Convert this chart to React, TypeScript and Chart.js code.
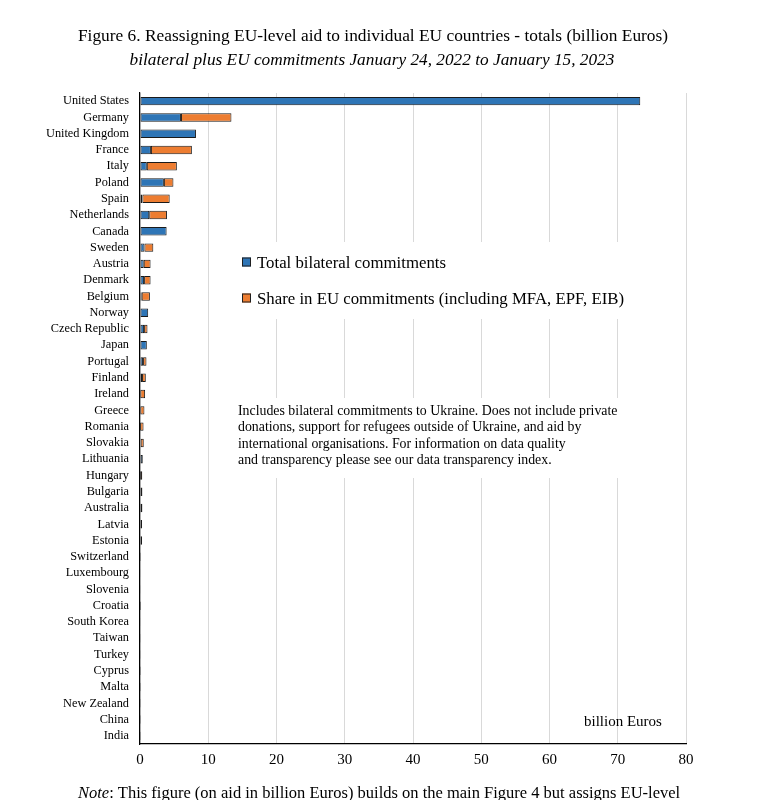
import React, { useEffect, useRef } from "react";
import { Chart, registerables } from "chart.js";

Chart.register(...registerables);

const countries = [
  "United States", "Germany", "United Kingdom", "France", "Italy", "Poland", "Spain",
  "Netherlands", "Canada", "Sweden", "Austria", "Denmark", "Belgium", "Norway",
  "Czech Republic", "Japan", "Portugal", "Finland", "Ireland", "Greece", "Romania",
  "Slovakia", "Lithuania", "Hungary", "Bulgaria", "Australia", "Latvia", "Estonia",
  "Switzerland", "Luxembourg", "Slovenia", "Croatia", "South Korea", "Taiwan", "Turkey",
  "Cyprus", "Malta", "New Zealand", "China", "India",
];

const bilateral = [
  73.3, 6.0, 8.2, 1.6, 1.0, 3.5, 0.35, 1.35, 3.9, 0.65, 0.55, 0.6, 0.25, 1.2,
  0.6, 1.0, 0.45, 0.3, 0.05, 0.05, 0.02, 0.1, 0.4, 0.03, 0.15, 0.35, 0.3, 0.3,
  0.15, 0.08, 0.08, 0.02, 0.05, 0.03, 0.03, 0.01, 0.01, 0.02, 0.01, 0.01,
];

const euShare = [
  0, 7.4, 0, 6.0, 4.4, 1.4, 4.0, 2.6, 0, 1.3, 1.0, 0.95, 1.2, 0,
  0.5, 0, 0.5, 0.55, 0.7, 0.6, 0.5, 0.45, 0.05, 0.3, 0.2, 0, 0, 0,
  0, 0.02, 0.03, 0.08, 0, 0, 0, 0.03, 0.02, 0, 0, 0,
];

const seriesNames = [
  "Total bilateral commitments",
  "Share in EU commitments (including MFA, EPF, EIB)",
];

const xTicks = [0, 10, 20, 30, 40, 50, 60, 70, 80];

const titleText = "Figure 6. Reassigning EU-level aid to individual EU countries - totals (billion Euros)";
const subtitleText = "bilateral plus EU commitments January 24, 2022 to January 15, 2023";
const noteLines = [
  "Includes bilateral commitments to Ukraine. Does not include private",
  "donations, support for refugees outside of Ukraine, and aid by",
  "international organisations. For information on data quality",
  "and transparency please see our data transparency index.",
];
const unitText = "billion Euros";
const footNoteLabel = "Note";
const footNoteText = ": This figure (on aid in billion Euros) builds on the main Figure 4 but assigns EU-level";

const BLUE = "#2E75B6";
const ORANGE = "#ED7D31";
const SERIF = "'Liberation Serif', 'Times New Roman', serif";

const overlayPlugin = {
  id: "overlay",
  beforeDatasetsDraw(chart: any) {
    const ctx = chart.ctx;
    ctx.save();
    ctx.fillStyle = "#ffffff";
    ctx.fillRect(236, 242, 404, 77);
    ctx.fillRect(233, 398, 389, 80);
    ctx.restore();
  },
  afterDraw(chart: any) {
    const ctx = chart.ctx;
    ctx.save();
    ctx.fillStyle = "#000";
    ctx.textBaseline = "alphabetic";
    // Title
    ctx.textAlign = "center";
    ctx.font = `17.35px ${SERIF}`;
    ctx.fillText(titleText, 373, 41);
    ctx.font = `italic 17.3px ${SERIF}`;
    ctx.fillText(subtitleText, 372, 65);

    // Legend
    ctx.textAlign = "left";
    const ds = chart.data.datasets;
    const legendY = [262, 298];
    ds.forEach((d: any, i: number) => {
      const cy = legendY[i];
      ctx.fillStyle = d.backgroundColor;
      ctx.fillRect(242, cy - 4.5, 9, 9);
      ctx.strokeStyle = "#1f1f1f";
      ctx.lineWidth = 1;
      ctx.strokeRect(242.5, cy - 4, 8, 8);
      ctx.fillStyle = "#000";
      ctx.font = `16.8px ${SERIF}`;
      ctx.fillText(d.label, 257, cy + 5.5);
    });

    // Annotation
    ctx.font = `13.85px ${SERIF}`;
    noteLines.forEach((line, i) => {
      ctx.fillText(line, 238, 414.5 + i * 16.5);
    });

    // Unit
    ctx.font = `15px ${SERIF}`;
    ctx.fillText(unitText, 584, 726);

    // Footnote
    ctx.font = `italic 16.5px ${SERIF}`;
    ctx.fillText(footNoteLabel, 78, 798);
    const w = ctx.measureText(footNoteLabel).width;
    ctx.font = `16.5px ${SERIF}`;
    ctx.fillText(footNoteText, 78 + w, 798);
    ctx.restore();
  },
};

export default function App() {
  const ref = useRef<HTMLCanvasElement | null>(null);

  useEffect(() => {
    if (!ref.current) return;
    const chart = new Chart(ref.current, {
      type: "bar",
      data: {
        labels: countries,
        datasets: [
          {
            label: seriesNames[0],
            data: bilateral,
            backgroundColor: BLUE,
            borderColor: "#1a1a1a",
            borderWidth: 1,
            borderSkipped: false,
          },
          {
            label: seriesNames[1],
            data: euShare,
            backgroundColor: ORANGE,
            borderColor: "#1a1a1a",
            borderWidth: 1,
            borderSkipped: false,
          },
        ],
      },
      options: {
        indexAxis: "y",
        responsive: false,
        animation: false,
        maintainAspectRatio: false,
        layout: { padding: { left: 0, right: 86, top: 93, bottom: 26 } },
        datasets: {
          bar: { barPercentage: 0.52, categoryPercentage: 1.0 },
        },
        plugins: {
          legend: { display: false },
          title: { display: false },
          tooltip: { enabled: false },
        },
        scales: {
          x: {
            type: "linear",
            stacked: true,
            min: 0,
            max: 80,
            afterBuildTicks: (scale: any) => {
              scale.ticks = xTicks.map((v) => ({ value: v }));
            },
            afterFit: (scale: any) => {
              scale.height = 30;
            },
            grid: { color: "#d9d9d9", lineWidth: 1, drawTicks: false },
            border: { display: true, color: "#000", width: 1.2 },
            ticks: {
              padding: 7,
              color: "#000",
              font: { family: SERIF, size: 15 },
            },
          },
          y: {
            stacked: true,
            afterFit: (scale: any) => {
              scale.width = 140;
            },
            grid: { display: false, drawTicks: false },
            border: { display: true, color: "#000", width: 1.2 },
            ticks: {
              padding: 11,
              color: "#000",
              autoSkip: false,
              font: { family: SERIF, size: 12.3 },
            },
          },
        },
      },
      plugins: [overlayPlugin],
    } as any);
    return () => chart.destroy();
  }, []);

  return (
    <div style={{ position: "fixed", left: 0, top: 0, width: 772, height: 800, background: "#fff" }}>
      <canvas ref={ref} width={772} height={800} style={{ width: 772, height: 800, display: "block" }} />
    </div>
  );
}
